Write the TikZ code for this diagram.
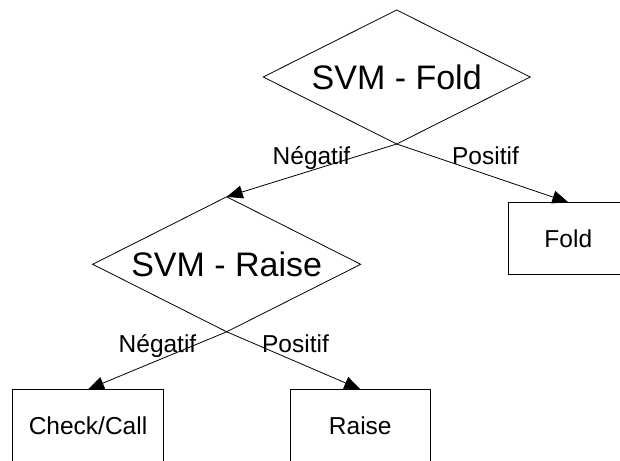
\documentclass[tikz,border=0pt]{standalone}
\usepackage{fontspec}
\setmainfont{Liberation Sans}
\usetikzlibrary{shapes.geometric,arrows.meta}
\begin{document}
\begin{tikzpicture}[x=1pt,y=-1pt,
  decision/.style={draw=black, line width=0.8pt, shape=diamond, aspect=2, inner sep=0pt, outer sep=0pt,
    minimum width=267pt, minimum height=134pt, font=\fontsize{34}{40}\selectfont, text height=24.4pt, text depth=0pt},
  leaf/.style={draw=black, line width=0.8pt, rectangle, inner sep=0pt, outer sep=0pt,
    minimum height=72pt, font=\fontsize{24.5}{29}\selectfont, text height=17.5pt, text depth=0pt},
  lbl/.style={anchor=base, inner sep=0pt, font=\fontsize{24.5}{29}\selectfont},
  conn/.style={draw=black, line width=0.8pt, -{Triangle[length=16pt,width=13pt]}}
]
\useasboundingbox (0,0) rectangle (620,460);
\node[decision] (fold) at (396.7,77) {SVM - Fold};
\node[decision, minimum width=268pt, minimum height=135pt] (raise) at (226.7,264.3) {SVM - Raise};
\node[leaf, minimum width=120pt] (foldbox) at (568.3,238.3) {Fold};
\node[leaf, minimum width=151pt] (check) at (88,425.3) {Check/Call};
\node[leaf, minimum width=140.7pt] (raisebox) at (360.3,425.3) {Raise};
\node[lbl] (n1) at (311.5,164.5) {Négatif};
\node[lbl] (p1) at (485.5,164.5) {Positif};
\node[lbl] (n2) at (157.5,352.3) {Négatif};
\node[lbl] (p2) at (295.5,352.3) {Positif};
\draw[conn] (fold.south) -- (raise.north);
\draw[conn] (fold.south) -- (foldbox.north);
\draw[conn] (raise.south) -- (check.north);
\draw[conn] (raise.south) -- (raisebox.north);
\end{tikzpicture}
\end{document}
